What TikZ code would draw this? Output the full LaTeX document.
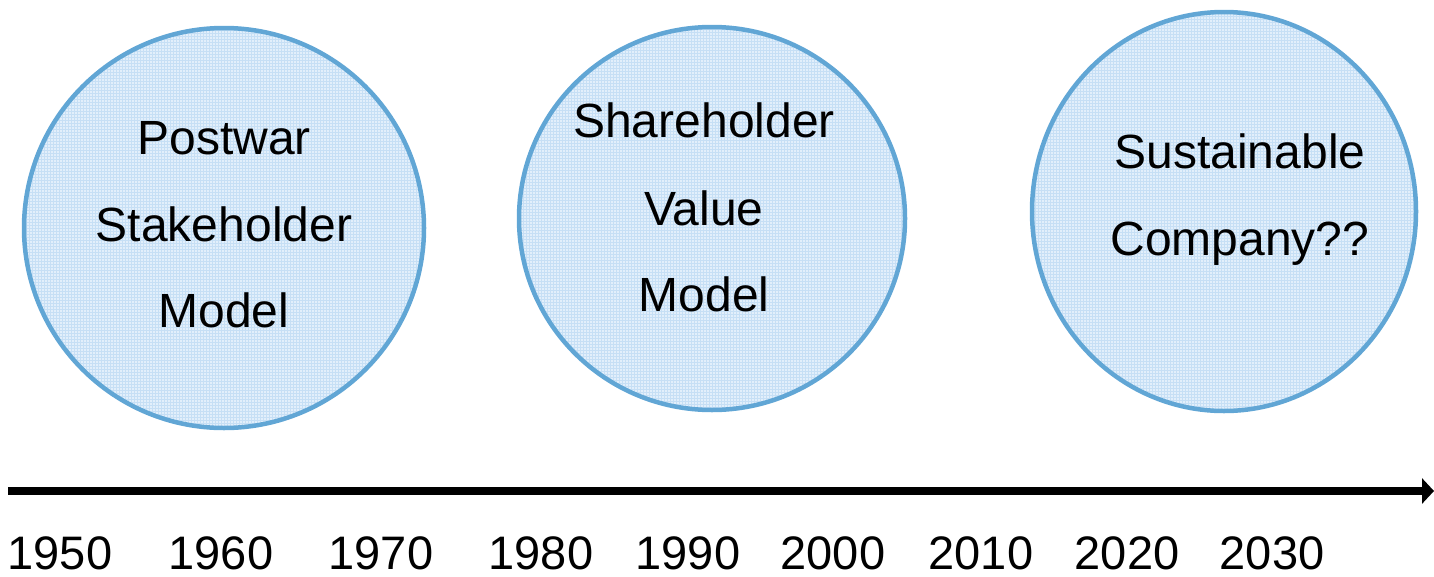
\documentclass[tikz,border=0pt]{standalone}
\usepackage{fontspec}
\setmainfont{Liberation Sans}
\usetikzlibrary{shapes.geometric,arrows.meta}
\definecolor{ringblue}{RGB}{97,166,213}
\definecolor{paleblue}{RGB}{226,239,251}
\definecolor{meshblue}{RGB}{198,223,245}
\tikzset{
  era/.style={ellipse, draw=ringblue, line width=4.5pt, fill=paleblue, inner sep=0pt,
    path picture={\draw[meshblue, line width=0.5pt]
      (path picture bounding box.south west) grid[step=3pt] (path picture bounding box.north east);}},
  lbl/.style={anchor=base, inner sep=0pt, font=\fontsize{48}{57}\selectfont},
  yr/.style={anchor=base, inner sep=0pt, font=\fontsize{47}{56}\selectfont},
  axis/.style={line width=8pt, -{Triangle[length=12pt,width=25pt]}}
}
\begin{document}
\begin{tikzpicture}[x=1pt,y=-1pt]
\useasboundingbox (0,0) rectangle (1434,576);
% eras
\node[era, minimum width=400pt, minimum height=400pt] (c1) at (224,228) {};
\node[era, minimum width=386pt, minimum height=383pt] (c2) at (712,218.5) {};
\node[era, minimum width=384pt, minimum height=399pt] (c3) at (1224,211.5) {};
% labels
\node[lbl] (t1a) at (224,154) {Postwar};
\node[lbl] (t1b) at (224,241) {Stakeholder};
\node[lbl] (t1c) at (224,327) {Model};
\node[lbl] (t2a) at (704,137) {Shareholder};
\node[lbl] (t2b) at (704,225) {Value};
\node[lbl] (t2c) at (704,311) {Model};
\node[lbl] (t3a) at (1240,168) {Sustainable};
\node[lbl] (t3b) at (1240,255) {Company??};
% timeline
\coordinate (ax0) at (8,491);
\coordinate (ax1) at (1434,491);
\draw[axis] (ax0) -- (ax1);
\node[yr] (y1950) at (60,569) {1950};
\node[yr] (y1960) at (221,569) {1960};
\node[yr] (y1970) at (381,569) {1970};
\node[yr] (y1980) at (541,569) {1980};
\node[yr] (y1990) at (688,569) {1990};
\node[yr] (y2000) at (833,569) {2000};
\node[yr] (y2010) at (981,569) {2010};
\node[yr] (y2020) at (1127,569) {2020};
\node[yr] (y2030) at (1272,569) {2030};
\end{tikzpicture}
\end{document}
